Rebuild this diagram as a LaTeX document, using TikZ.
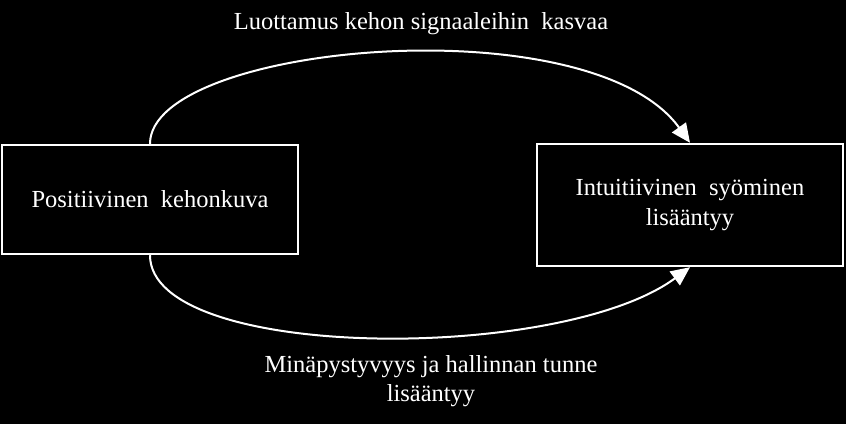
\documentclass[tikz,border=0pt]{standalone}
\usepackage{fontspec}
\setmainfont{Liberation Serif}
\usetikzlibrary{arrows.meta}

\tikzset{
  box/.style={draw=white, line width=2.4pt, text=white, align=center},
  lbl/.style={text=white, align=center},
  arr/.style={draw=white, line width=2pt, -{Triangle[length=19pt,width=17pt]}}
}

\begin{document}
\begin{tikzpicture}[x=1pt, y=-1pt, font=\fontsize{24.5}{29.5}\selectfont]
    \fill[black] (0,0) rectangle (846,424);
    \node[box, minimum width=296pt, minimum height=109pt] (pos) at (150,199.5) {Positiivinen\ \ kehonkuva};
    \node[box, minimum width=306pt, minimum height=122pt] (int) at (690,205) {Intuitiivinen\ \ syöminen\\lisääntyy};
    \node[lbl] (top) at (421,24) {Luottamus kehon signaaleihin\ \ kasvaa};
    \node[lbl] (bot) at (431,381) {Minäpystyvyys ja hallinnan tunne\\lisääntyy};
    \draw[arr] (pos.north) .. controls +(0,-100) and +(-100,-139) .. (int.north);
    \draw[arr] (pos.south) .. controls +(0,106) and +(-130,96) .. (int.south);
\end{tikzpicture}
\end{document}
